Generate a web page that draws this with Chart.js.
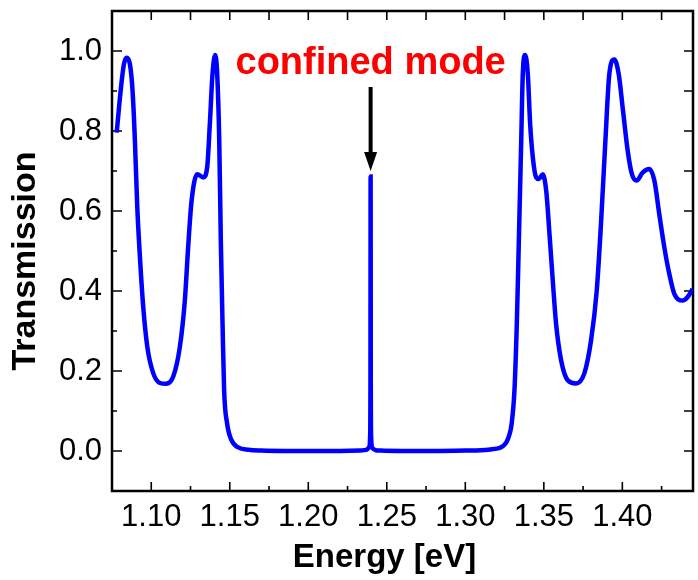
<!DOCTYPE html>
<html>
<head>
<meta charset="utf-8">
<script src="https://cdn.jsdelivr.net/npm/chart.js@4.4.1/dist/chart.umd.min.js"></script>
<style>
  html, body { margin: 0; padding: 0; background: #fff; }
</style>
</head>
<body>
<canvas id="chart" width="698" height="580"></canvas>
<script>
// values
const energy = [
  1.0780, 1.0805, 1.0826, 1.0843, 1.0864, 1.0881, 1.0896, 1.0911, 1.0928, 1.0949,
  1.0975, 1.1013, 1.1055, 1.1094, 1.1140, 1.1182, 1.1214, 1.1235, 1.1257, 1.1293,
  1.1331, 1.1356, 1.1373, 1.1390, 1.1407, 1.1420, 1.1433, 1.1443, 1.1454, 1.1464,
  1.1483, 1.1511, 1.1554, 1.1620, 1.1700, 1.1850, 1.2000, 1.2200, 1.2330, 1.2370,
  1.2388, 1.2394, 1.2396, 1.2397, 1.2398, 1.2400, 1.2406, 1.2424, 1.2460, 1.2600,
  1.2800, 1.3000, 1.3100, 1.3160, 1.3200, 1.3225, 1.3248, 1.3266, 1.3280, 1.3294,
  1.3313, 1.3328, 1.3341, 1.3356, 1.3366, 1.3381, 1.3398, 1.3413, 1.3430, 1.3451,
  1.3468, 1.3493, 1.3515, 1.3536, 1.3557, 1.3578, 1.3610, 1.3652, 1.3705, 1.3758,
  1.3801, 1.3837, 1.3864, 1.3892, 1.3917, 1.3949, 1.3977, 1.4002, 1.4034, 1.4061,
  1.4091, 1.4129, 1.4172, 1.4204, 1.4235, 1.4267, 1.4299, 1.4331, 1.4384, 1.4416,
  1.4447
];
const transmission = [
  0.796, 0.900, 0.967, 0.983, 0.967, 0.900, 0.775, 0.609, 0.484, 0.360,
  0.260, 0.194, 0.170, 0.168, 0.186, 0.260, 0.377, 0.510, 0.626, 0.692,
  0.684, 0.709, 0.817, 0.942, 0.990, 0.942, 0.775, 0.526, 0.318, 0.152,
  0.069, 0.027, 0.009, 0.003, 0.001, 0.000, 0.000, 0.000, 0.001, 0.003,
  0.010, 0.040, 0.180, 0.686, 0.180, 0.040, 0.010, 0.003, 0.001, 0.000,
  0.000, 0.001, 0.002, 0.004, 0.006, 0.009, 0.015, 0.025, 0.040, 0.065,
  0.152, 0.318, 0.526, 0.775, 0.942, 0.990, 0.942, 0.817, 0.734, 0.684,
  0.680, 0.692, 0.651, 0.543, 0.426, 0.318, 0.227, 0.177, 0.169, 0.194,
  0.277, 0.401, 0.568, 0.775, 0.942, 0.979, 0.942, 0.859, 0.751, 0.692,
  0.676, 0.696, 0.705, 0.676, 0.593, 0.510, 0.443, 0.393, 0.376, 0.385,
  0.405
];

const xMajor = [1.10, 1.15, 1.20, 1.25, 1.30, 1.35, 1.40];
const xMinor = [1.125, 1.175, 1.225, 1.275, 1.325, 1.375, 1.425];
const yMajor = [0.0, 0.2, 0.4, 0.6, 0.8, 1.0];
const yMinor = [0.1, 0.3, 0.5, 0.7, 0.9];

const xTitle = 'Energy [eV]';
const yTitle = 'Transmission';
const noteText = 'confined mode';
const noteAt = [1.2397, 0.943];
const arrowFrom = [1.2397, 0.910];
const arrowTo = [1.2397, 0.700];

const points = energy.map((e, i) => ({ x: e, y: transmission[i] }));
const FONT = '"Liberation Sans", Arial, sans-serif';

// box, inward ticks, axis titles, arrow and label
const framePlugin = {
  id: 'frame',
  beforeDatasetsDraw(chart) {
    const ctx = chart.ctx;
    const a = chart.chartArea;
    const xs = chart.scales.x, ys = chart.scales.y;
    ctx.save();
    ctx.strokeStyle = '#000';
    ctx.lineWidth = 1.6;
    ctx.beginPath();
    xMajor.concat(xMinor).forEach(v => {
      const px = xs.getPixelForValue(v);
      const len = xMajor.includes(v) ? 9 : 5;
      ctx.moveTo(px, a.bottom); ctx.lineTo(px, a.bottom - len);
      ctx.moveTo(px, a.top); ctx.lineTo(px, a.top + 9);
    });
    yMajor.concat(yMinor).forEach(v => {
      const py = ys.getPixelForValue(v);
      const len = yMajor.includes(v) ? 10 : 5;
      ctx.moveTo(a.left, py); ctx.lineTo(a.left + len, py);
      ctx.moveTo(a.right, py); ctx.lineTo(a.right - 9, py);
    });
    ctx.stroke();
    ctx.lineWidth = 2.5;
    ctx.strokeRect(a.left, a.top, a.right - a.left, a.bottom - a.top);

    // axis titles
    ctx.fillStyle = '#000';
    ctx.font = 'bold 33px ' + FONT;
    ctx.textAlign = 'center';
    ctx.textBaseline = 'alphabetic';
    ctx.fillText(xTitle, (a.left + a.right) / 2 - 18, 567);
    ctx.translate(35, (a.top + a.bottom) / 2 + 10);
    ctx.rotate(-Math.PI / 2);
    ctx.font = 'bold 34px ' + FONT;
    ctx.fillText(yTitle, 0, 0);
    ctx.restore();
  },
  afterDatasetsDraw(chart) {
    const ctx = chart.ctx;
    const xs = chart.scales.x, ys = chart.scales.y;
    ctx.save();
    ctx.fillStyle = '#ff0000';
    ctx.font = 'bold 38px ' + FONT;
    ctx.textAlign = 'center';
    ctx.textBaseline = 'alphabetic';
    ctx.fillText(noteText, xs.getPixelForValue(noteAt[0]), ys.getPixelForValue(noteAt[1]));

    const ax = xs.getPixelForValue(arrowFrom[0]);
    const ay0 = ys.getPixelForValue(arrowFrom[1]);
    const ay1 = ys.getPixelForValue(arrowTo[1]);
    ctx.strokeStyle = '#000';
    ctx.fillStyle = '#000';
    ctx.lineWidth = 4;
    ctx.beginPath();
    ctx.moveTo(ax, ay0);
    ctx.lineTo(ax, ay1 - 14);
    ctx.stroke();
    ctx.beginPath();
    ctx.moveTo(ax - 6.5, ay1 - 19);
    ctx.lineTo(ax + 6.5, ay1 - 19);
    ctx.lineTo(ax, ay1);
    ctx.closePath();
    ctx.fill();
    ctx.restore();
  }
};

new Chart(document.getElementById('chart'), {
  type: 'line',
  data: {
    datasets: [{
      data: points,
      borderColor: '#0000ff',
      borderWidth: 4.5,
      pointRadius: 0,
      fill: false,
      cubicInterpolationMode: 'monotone'
    }]
  },
  options: {
    responsive: false,
    animation: false,
    events: [],
    layout: { padding: { left: 0, right: 5, top: 11, bottom: 0 } },
    plugins: { legend: { display: false }, tooltip: { enabled: false } },
    scales: {
      x: {
        type: 'linear',
        min: 1.075,
        max: 1.445,
        afterBuildTicks(scale) { scale.ticks = xMajor.map(v => ({ value: v })); },
        afterFit(scale) {
          scale.height = 89;
          scale.paddingLeft = 0;
          scale.paddingRight = 0;
        },
        grid: { display: false, drawTicks: false },
        border: { display: false },
        ticks: {
          padding: 8,
          color: '#000',
          font: { family: FONT, size: 31 },
          maxRotation: 0,
          autoSkip: false,
          callback: v => Number(v).toFixed(2)
        }
      },
      y: {
        min: -0.1,
        max: 1.1,
        afterBuildTicks(scale) { scale.ticks = yMajor.map(v => ({ value: v })); },
        afterFit(scale) {
          scale.width = 112;
          scale.paddingTop = 0;
          scale.paddingBottom = 0;
        },
        grid: { display: false, drawTicks: false },
        border: { display: false },
        ticks: {
          padding: 10,
          color: '#000',
          font: { family: FONT, size: 31 },
          autoSkip: false,
          callback: v => Number(v).toFixed(1)
        }
      }
    }
  },
  plugins: [framePlugin]
});
</script>
</body>
</html>
